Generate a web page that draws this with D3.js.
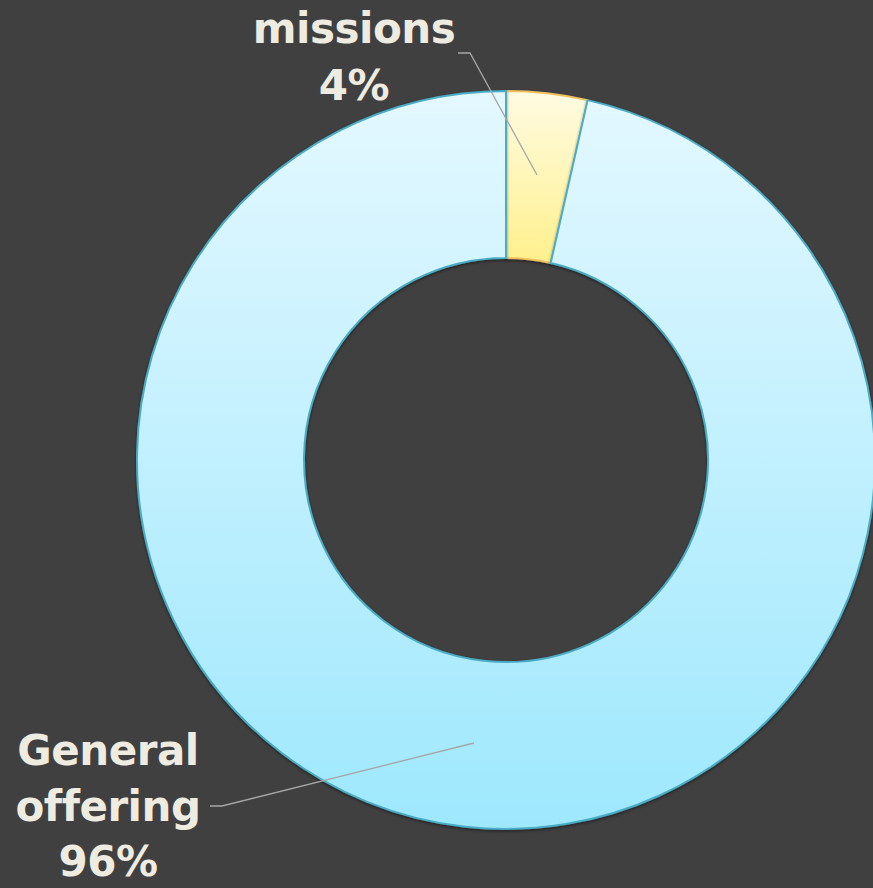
<!DOCTYPE html>
<html>
<head>
<meta charset="utf-8">
<script src="https://cdn.jsdelivr.net/npm/d3@7"></script>
<style>
  html, body { margin: 0; padding: 0; background: #404040; }
  svg { display: block; }
</style>
</head>
<body>
<div id="chart"></div>
<script>
// data
const categories = ["missions", "General offering"];
const values = [3.55, 96.45];
const pctLabels = ["4%", "96%"];

const width = 873, height = 888;
const cx = 506, cy = 460;
const outerR = 369, innerR = 202;

const svg = d3.select("#chart").append("svg")
  .attr("width", width)
  .attr("height", height);

svg.append("rect").attr("width", width).attr("height", height).attr("fill", "#404040");

// gradients for the slices (top to bottom)
const defs = svg.append("defs");
const gradStops = [
  [["0%", "#fffbe2"], ["100%", "#fff08c"]],
  [["0%", "#e4f8ff"], ["100%", "#9ee8fd"]]
];
gradStops.forEach((stops, i) => {
  const g = defs.append("linearGradient")
    .attr("id", "grad" + i)
    .attr("x1", 0).attr("y1", 0).attr("x2", 0).attr("y2", 1);
  stops.forEach(s => g.append("stop").attr("offset", s[0]).attr("stop-color", s[1]));
});
const shadow = defs.append("filter").attr("id", "shadow")
  .attr("x", "-10%").attr("y", "-10%").attr("width", "120%").attr("height", "120%");
shadow.append("feDropShadow").attr("dx", 0).attr("dy", 1.5).attr("stdDeviation", 1.5)
  .attr("flood-color", "#000").attr("flood-opacity", 0.45);

const pie = d3.pie().sort(null).value(d => d);
const arcs = pie(values);
const arc = d3.arc().innerRadius(innerR).outerRadius(outerR);

const g = svg.append("g").attr("transform", `translate(${cx},${cy})`);
const strokes = ["#f0c060", "#4bacc6"];

g.selectAll("path.slice")
  .data(arcs)
  .enter()
  .append("path")
  .attr("class", "slice")
  .attr("d", arc)
  .attr("fill", (d, i) => `url(#grad${i})`)
  .attr("stroke", (d, i) => strokes[i])
  .attr("stroke-width", 2)
  .attr("filter", "url(#shadow)");

// leader lines
const leaders = [
  [[458, 53], [470, 53], [537, 175]],
  [[210, 806], [222, 806], [474, 743]]
];
svg.selectAll("polyline.leader")
  .data(leaders)
  .enter()
  .append("polyline")
  .attr("class", "leader")
  .attr("points", d => d.map(p => p.join(",")).join(" "))
  .attr("fill", "none")
  .attr("stroke", "#a6a6a6")
  .attr("stroke-width", 1.3);

// data labels
const labelPos = [
  { x: 354, lines: [[categories[0], 43], [pctLabels[0], 100]] },
  { x: 108, lines: [["General", 765], ["offering", 821], [pctLabels[1], 876]] }
];
labelPos.forEach((lp, i) => {
  const t = svg.append("text")
    .attr("text-anchor", "middle")
    .attr("fill", "#eeebe0")
    .style("font-family", "'Century Gothic', 'URW Gothic', 'DejaVu Sans', sans-serif")
    .style("font-weight", "bold")
    .style("font-size", "42px")
    .style("letter-spacing", "-0.5px");
  lp.lines.forEach(l => {
    t.append("tspan").attr("x", lp.x).attr("y", l[1]).text(l[0]);
  });
});
</script>
</body>
</html>
